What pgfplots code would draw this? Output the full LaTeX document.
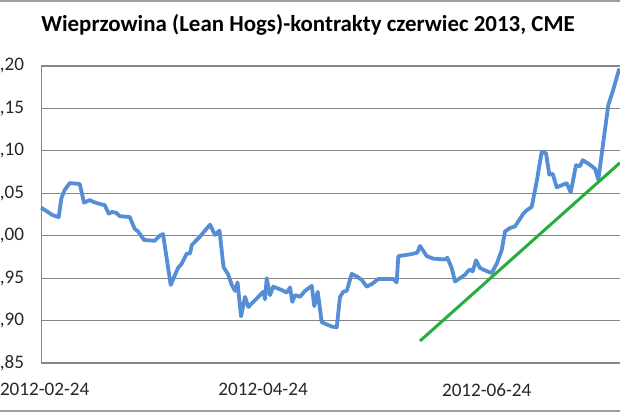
\documentclass[border=0pt]{standalone}
\usepackage{pgfplots}
\pgfplotsset{compat=1.18}
\usepackage{fontspec}
\setmainfont{Carlito}

\definecolor{hogblue}{RGB}{85,142,213}
\definecolor{trendgreen}{RGB}{38,173,62}
\definecolor{gridgray}{RGB}{134,134,134}

% x = days after 2012-02-24
\pgfplotstableread{
d v
-0.49 1.033
2.73 1.024
4.28 1.022
4.99 1.044
5.92 1.054
7.28 1.062
10.01 1.061
11.18 1.039
12.74 1.042
13.64 1.040
14.99 1.038
16.83 1.036
17.92 1.026
18.82 1.028
19.99 1.027
20.92 1.023
23.65 1.022
25.01 1.008
25.91 1.005
27.54 0.995
30.46 0.994
31.82 1.000
32.72 1.002
34.82 0.942
36.81 0.962
37.82 0.967
39.19 0.979
40.09 0.979
40.55 0.989
42.81 0.999
45.54 1.013
46.90 1.001
48.13 1.006
49.22 0.963
50.53 0.954
51.46 0.942
52.36 0.935
53.04 0.945
54.00 0.905
55.09 0.928
55.99 0.916
57.35 0.922
59.18 0.930
60.08 0.934
60.54 0.925
61.00 0.950
61.90 0.930
62.80 0.940
65.09 0.936
66.46 0.933
67.36 0.939
67.98 0.922
68.72 0.930
70.08 0.928
71.45 0.935
73.28 0.941
73.98 0.917
74.91 0.934
76.00 0.898
78.73 0.893
80.09 0.892
80.99 0.928
81.89 0.934
82.82 0.935
84.18 0.955
85.55 0.952
86.91 0.948
88.27 0.940
89.64 0.943
91.44 0.949
95.53 0.949
96.45 0.945
96.89 0.976
100.08 0.978
102.07 0.980
102.81 0.988
104.64 0.976
106.44 0.973
109.63 0.972
110.26 0.974
111.45 0.962
112.35 0.946
113.72 0.950
115.08 0.954
115.82 0.958
116.44 0.960
117.18 0.958
118.08 0.971
119.17 0.962
120.07 0.960
122.36 0.956
123.73 0.967
125.09 0.983
125.99 1.005
127.35 1.009
128.72 1.011
129.62 1.017
130.98 1.026
131.91 1.030
133.27 1.034
134.63 1.064
135.99 1.099
137.17 1.097
138.07 1.072
138.99 1.073
140.09 1.057
142.81 1.062
143.90 1.051
145.35 1.083
146.44 1.082
147.17 1.089
148.70 1.085
150.52 1.079
151.43 1.066
152.63 1.105
154.16 1.154
155.36 1.170
157.16 1.197
}\hogs

\begin{document}
\begin{tikzpicture}
% axis area lower-left corner sits at (0,0); the screenshot is cropped on all sides
\begin{axis}[
  scale only axis, width=581bp, height=297bp,
  xmin=-0.5, xmax=157.95,
  ymin=0.85, ymax=1.20,
  axis lines*=left,
  axis line style={-, draw=gridgray, line width=1.2bp},
  major tick length=0pt,
  ymajorgrids,
  grid style={draw=gridgray, line width=1.2bp},
  ytick={0.85,0.90,0.95,1.00,1.05,1.10,1.15,1.20},
  xtick={0.45,60,121},
  xticklabels={2012-02-24,2012-04-24,2012-06-24},
  ticklabel style={font=\fontsize{19.2}{22}\selectfont, text=black!85},
  /pgf/number format/assume math mode=true,
  y tick label style={
    /pgf/number format/fixed,
    /pgf/number format/fixed zerofill,
    /pgf/number format/precision=2,
    /pgf/number format/use comma},
  every y tick label/.append style={anchor=east, inner sep=0pt, xshift=-17bp},
  every x tick label/.append style={anchor=north, inner sep=0pt, yshift=-20bp},
  clip=false,
]
\addplot[hogblue, line width=3.8bp, line join=round] table[x=d, y=v] {\hogs};
\addplot[trendgreen, line width=3bp] coordinates {(102.81,0.876) (157.35,1.086)};
\end{axis}

\begin{scope}[x=1bp, y=1bp]
\draw[gridgray!80, line width=1.6bp] (-60,362) -- (600,362);
\draw[gridgray!80, line width=1.4bp] (-60,-48) -- (600,-48);
\node[font=\bfseries\fontsize{23}{27}\selectfont] at (266.8,338)
  {Wieprzowina (Lean Hogs)-kontrakty czerwiec 2013, CME};
\pgfresetboundingbox
\useasboundingbox (-41.2,-50) rectangle (578.8,363);
\end{scope}
\end{tikzpicture}
\end{document}
